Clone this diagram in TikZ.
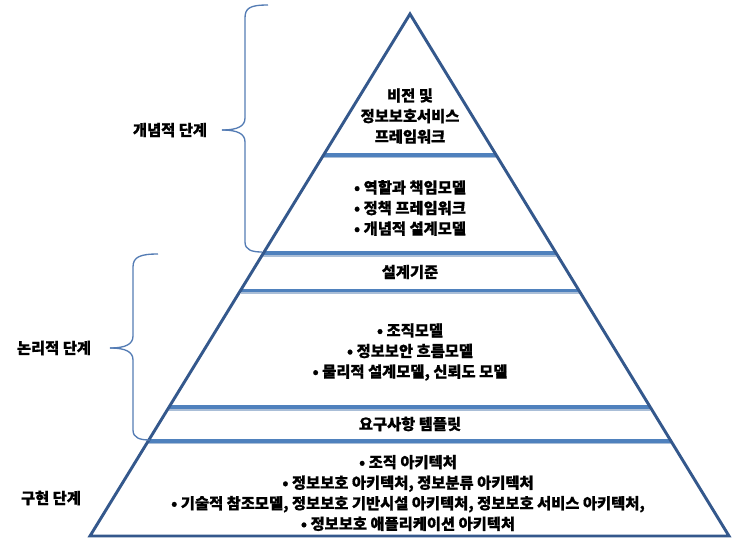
\documentclass[tikz,border=0pt]{standalone}
\usepackage{fontspec}
\newfontfamily\kr[FakeBold=0.7]{Noto Sans CJK KR}
\usetikzlibrary{calc}
\definecolor{edgeblue}{RGB}{52,88,140}
\definecolor{tierblue}{RGB}{79,129,189}
\definecolor{tiershade}{RGB}{170,190,215}
\definecolor{braceblue}{RGB}{84,124,180}
\tikzset{
  tier/.style={line width=2.4pt, tierblue,
    preaction={draw, tiershade, line width=2pt, transform canvas={yshift=-1.6pt}}},
  txt/.style={font=\kr\bfseries\fontsize{11.5}{15.4}\selectfont, align=center, inner sep=0pt},
  brc/.style={braceblue, line width=1pt}
}
\begin{document}
\begin{tikzpicture}[x=0.75pt, y=-0.75pt]
    \useasboundingbox (0,0) rectangle (750,542);
    \coordinate (apex) at (410,14);
    \coordinate (baseL) at (90,536);
    \coordinate (baseR) at (729,536);

    \foreach \t/\n in {0.270/1, 0.458/2, 0.529/3, 0.753/4, 0.818/5} {
      \coordinate (tier\n-west) at ($(apex)!\t!(baseL)$);
      \coordinate (tier\n-east) at ($(apex)!\t!(baseR)$);
      \draw[tier] (tier\n-west) -- (tier\n-east);
    }
    \draw[edgeblue, line width=2.2pt, line join=miter] (apex) -- (baseL) -- (baseR) -- cycle;

    \draw[brc] (268,5) .. controls (250,5) and (245,8) .. (245,18) -- (245,118) .. controls (245,126) and (238,130) .. (222,130);
    \draw[brc] (222,130) .. controls (238,130) and (245,134) .. (245,142) -- (245,242) .. controls (245,250) and (252,252) .. (262,252);
    \draw[brc] (158,254) .. controls (140,254) and (133,257) .. (133,267) -- (133,336) .. controls (133,344) and (126,348) .. (110,348);
    \draw[brc] (110,348) .. controls (126,348) and (133,352) .. (133,360) -- (133,430) .. controls (133,438) and (140,440) .. (150,440);

    \node[txt] (vision) at (410,116) {비전 및\\정보보호서비스\\프레임워크};
    \node[txt, align=left] (concept) at (410,208) {• 역할과 책임모델\\• 정책 프레임워크\\• 개념적 설계모델};
    \node[txt] (criteria) at (410,272) {설계기준};
    \node[txt] (models) at (410,352) {• 조직모델\\• 정보보안 흐름모델\\• 물리적 설계모델, 신뢰도 모델};
    \node[txt] (templ) at (410,424) {요구사항 템플릿};
    \node[txt] (archs) at (408,493) {• 조직 아키텍처\\• 정보보호 아키텍처, 정보분류 아키텍처\\• 기술적 참조모델, 정보보호 기반시설 아키텍처, 정보보호 서비스 아키텍처,\\• 정보보호 애플리케이션 아키텍처};

    \node[txt] (conceptual) at (170,130) {개념적 단계};
    \node[txt] (logical) at (54,348) {논리적 단계};
    \node[txt] (implement) at (51,498) {구현 단계};
  \end{tikzpicture}
\end{document}
